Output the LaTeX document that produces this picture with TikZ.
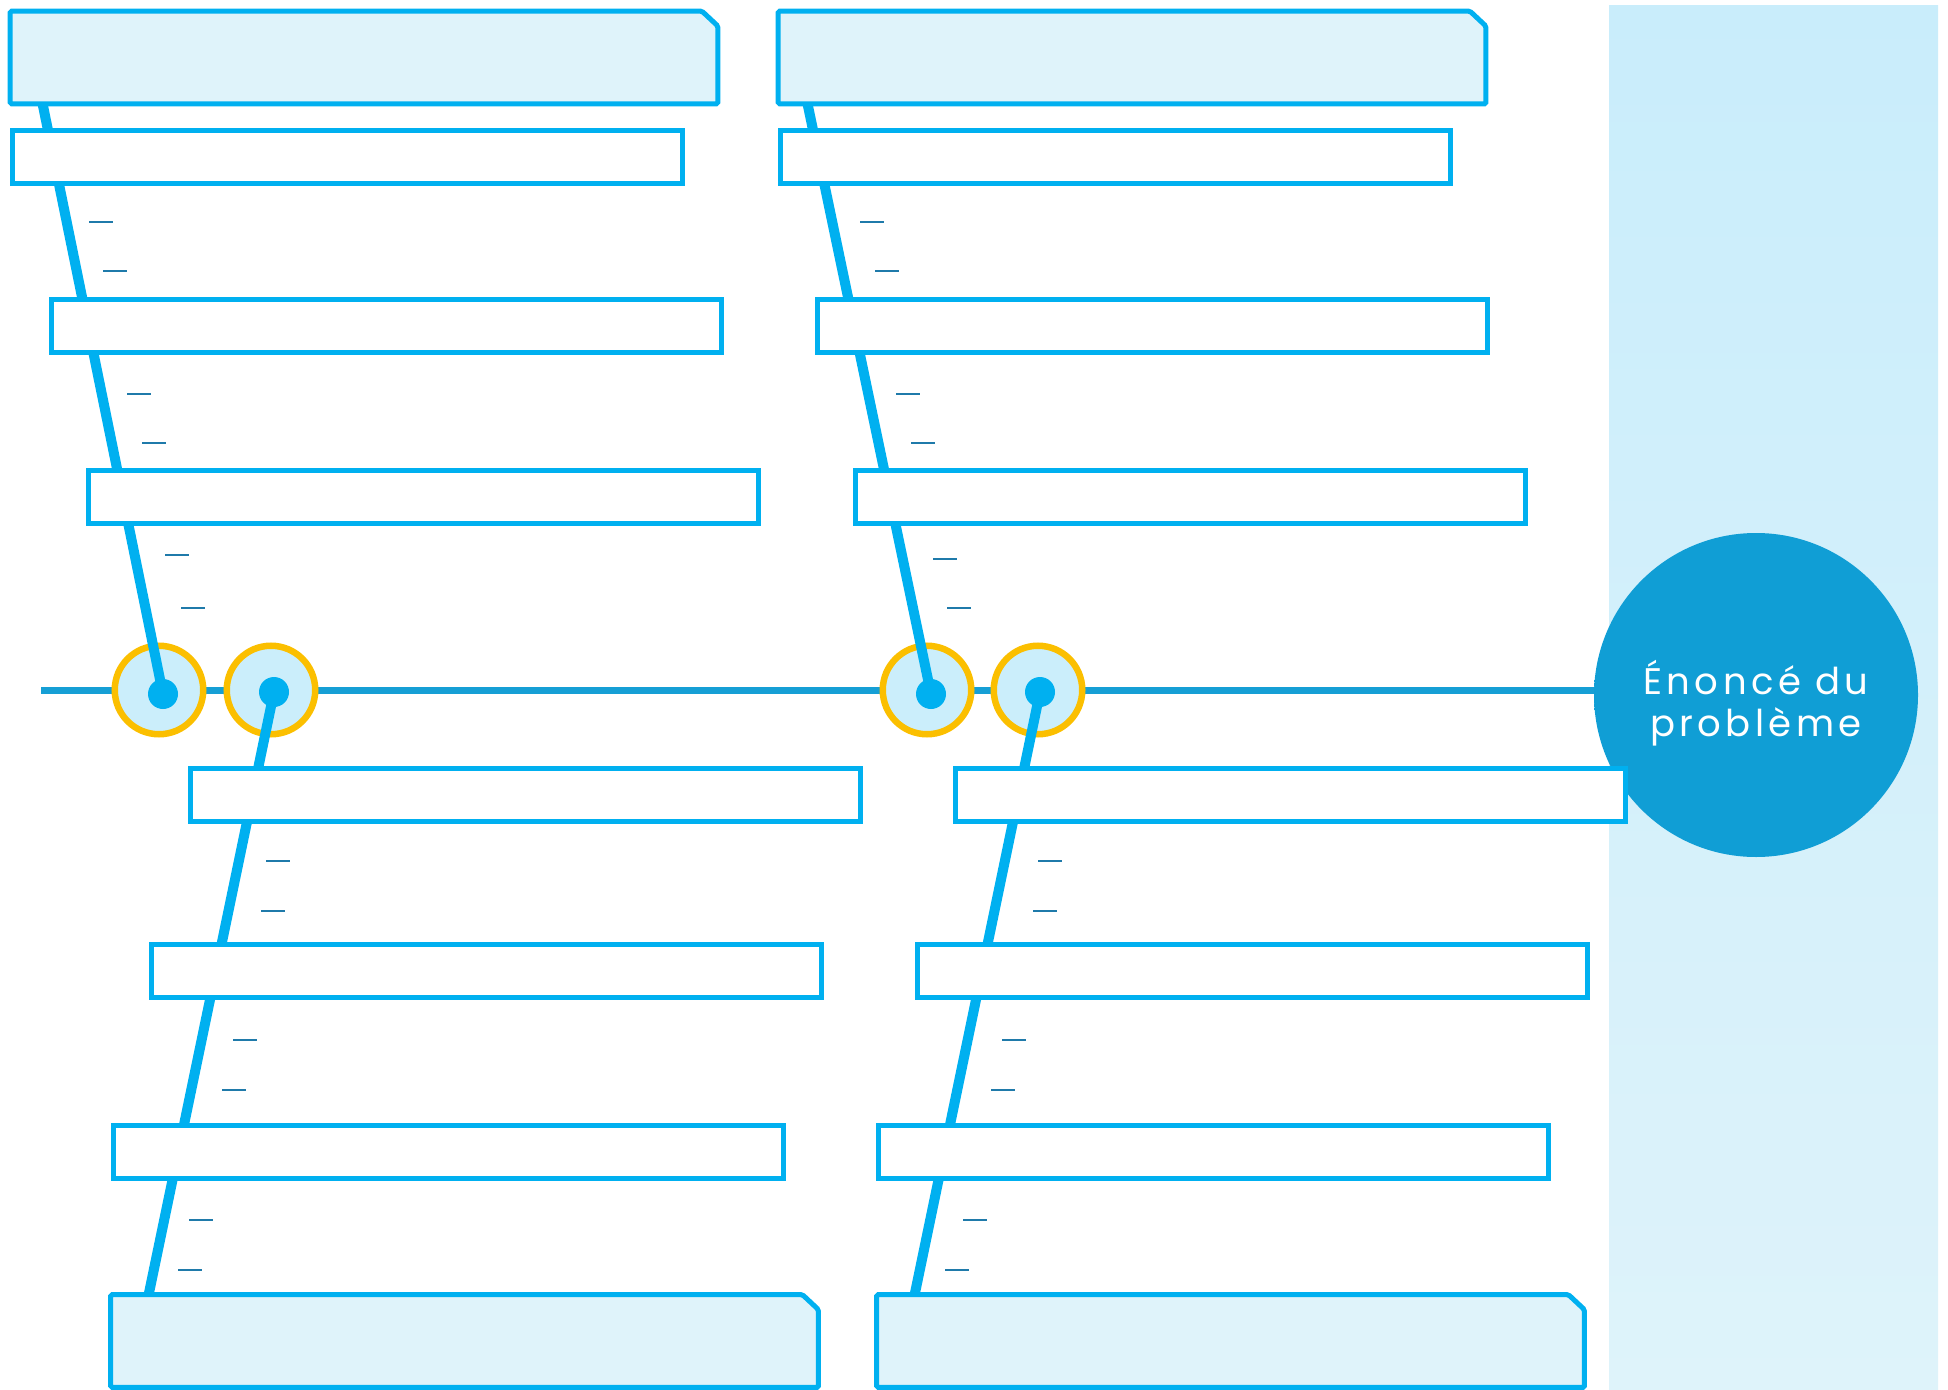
\documentclass[tikz,border=0pt]{standalone}
\usepackage{fontspec}
\newfontfamily\goalfont{Poppins}[LetterSpace=12]
\usetikzlibrary{positioning,calc}

\definecolor{causecyan}{HTML}{00B0F0}
\definecolor{spineblue}{HTML}{169FD5}
\definecolor{headfill}{HTML}{DFF3FA}
\definecolor{ringfill}{HTML}{CBEEFB}
\definecolor{ringgold}{HTML}{FBBF00}
\definecolor{dashblue}{HTML}{1F7AAA}
\definecolor{goalblue}{HTML}{109ED5}
\definecolor{goalrim}{HTML}{0B86B8}
\definecolor{paneltop}{HTML}{C9EDFB}
\definecolor{panelbot}{HTML}{DEF3FA}

\pgfdeclarelayer{panel}
\pgfdeclarelayer{axis}
\pgfdeclarelayer{rings}
\pgfdeclarelayer{bones}
\pgfsetlayers{panel,axis,rings,bones,main}

\pgfdeclareradialshading{goalshade}{\pgfpoint{0bp}{0bp}}{color(0bp)=(goalblue); color(43bp)=(goalblue); color(50bp)=(goalrim)}

\begin{document}
\begin{tikzpicture}[
    x=0.5pt, y=-0.5pt,
    causebox/.style={rectangle, draw=causecyan, fill=white, line width=2.5pt, minimum width=335pt, minimum height=26.5pt, inner sep=0pt},
    headbox/.style={rectangle, minimum width=353.5pt, minimum height=46pt, inner sep=0pt},
    headline/.style={draw=causecyan, fill=headfill, line width=2.5pt, rounded corners=0.8pt},
    ring/.style={circle, draw=ringgold, fill=ringfill, line width=3.25pt, minimum size=44.25pt, inner sep=0pt},
    knot/.style={circle, fill=causecyan, minimum size=15pt, inner sep=0pt},
    goal/.style={circle, shading=goalshade, minimum size=162pt, inner sep=0pt},
    goaltext/.style={align=center, text=white, inner sep=0pt, font=\goalfont\fontsize{18.5pt}{21pt}\selectfont},
    bone/.style={draw=causecyan, line width=5pt},
    backbone/.style={draw=spineblue, line width=3.5pt},
    blankline/.style={draw=dashblue, line width=1.1pt}
]
\useasboundingbox (0,0) rectangle (1948,1390);

% Right panel
\begin{pgfonlayer}{panel}
\shade[top color=paneltop, bottom color=panelbot] (1609,6) rectangle (1938,1390);
\end{pgfonlayer}

% Knots on the spine
\node[knot] (knotTL) at (163,694) {};
\node[knot] (knotBL) at (274,692) {};
\node[knot] (knotTR) at (931,694) {};
\node[knot] (knotBR) at (1040,692) {};

% Rings round the knots
\begin{pgfonlayer}{rings}
\node[ring] (ringTL) at (159,690) {};
\node[ring] (ringBL) at (271,690) {};
\node[ring] (ringTR) at (927,690) {};
\node[ring] (ringBR) at (1038,690) {};
\end{pgfonlayer}

% Problem statement
\node[goal] (goal) at (1756,695) {};
\node[goaltext] (goaltext) at ([yshift=-4pt]goal.center) {Énoncé du\\problème};

% Category headers
\node[headbox] (headTL) at (364,57.5) {};
\node[headbox] (headTR) at (1132,57.5) {};
\node[headbox] (headBL) at (464.5,1341) {};
\node[headbox] (headBR) at (1230.5,1341) {};
\foreach \h in {headTL,headTR,headBL,headBR}
  \path[headline] (\h.south west) -- (\h.north west) -- ([xshift=-8pt]\h.north east)
    -- ([yshift=-7.5pt]\h.north east) -- (\h.south east) -- cycle;

% Causes, upper left
\node[causebox] (ul1) at (347.5,157.5) {};
\node[causebox] (ul2) at (386.5,326) {};
\node[causebox] (ul3) at (423.5,496.5) {};

% Causes, upper right
\node[causebox] (ur1) at (1115,157.5) {};
\node[causebox] (ur2) at (1152.5,326) {};
\node[causebox] (ur3) at (1190.5,496.5) {};

% Causes, lower left
\node[causebox] (ll1) at (525.5,795) {};
\node[causebox] (ll2) at (486.5,970.5) {};
\node[causebox] (ll3) at (448,1151.5) {};

% Causes, lower right
\node[causebox] (lr1) at (1290.5,795) {};
\node[causebox] (lr2) at (1252.5,970.5) {};
\node[causebox] (lr3) at (1213.5,1151.5) {};

% Spine
\coordinate (tail) at (41,690.5);
\begin{pgfonlayer}{axis}
\draw[backbone] (tail) -- (tail -| goal.center);
\end{pgfonlayer}

% Bones
\coordinate (tipTL) at (40.8,95);
\coordinate (tipTR) at (805.7,95);
\coordinate (tipBL) at (146.5,1305);
\coordinate (tipBR) at (912.5,1305);
\begin{pgfonlayer}{bones}
\draw[bone] (knotTL.center) -- (tipTL);
\draw[bone] (knotTR.center) -- (tipTR);
\draw[bone] (knotBL.center) -- (tipBL);
\draw[bone] (knotBR.center) -- (tipBR);
\end{pgfonlayer}

% Sub-cause blanks
\foreach \x/\y in {89/222, 103/271, 127/394, 142/443, 165/555, 181/608,
                   860/222, 875/271, 896/394, 911/443, 933/559, 947/608,
                   266/861, 261/911, 233/1040, 222/1090, 189/1220, 178/1270,
                   1038/861, 1033/911, 1002/1040, 991/1090, 963/1220, 945/1270}
  \draw[blankline] (\x,\y) -- ++(24,0);

\end{tikzpicture}
\end{document}
